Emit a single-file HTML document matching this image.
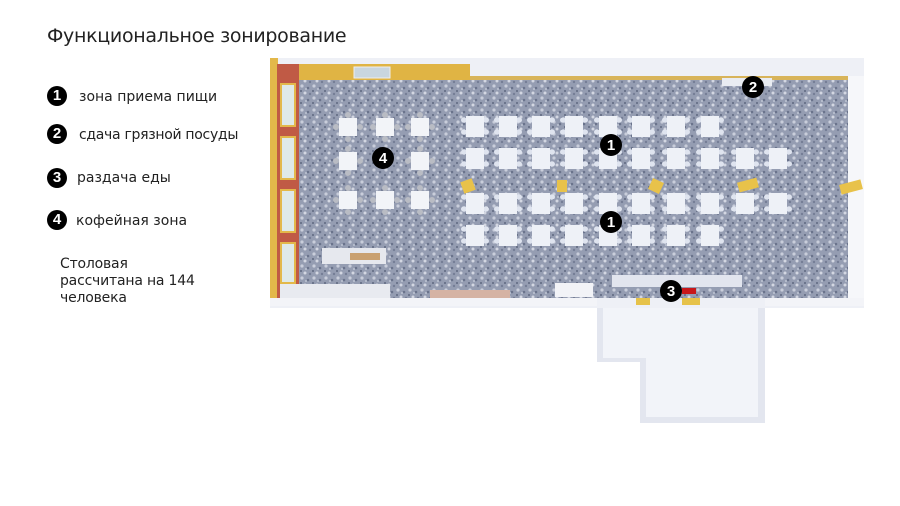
<!DOCTYPE html>
<html><head><meta charset="utf-8"><style>
html,body{margin:0;padding:0;background:#fff;}
body{width:900px;height:506px;position:relative;overflow:hidden;font-family:"DejaVu Sans","Liberation Sans",sans-serif;color:#222;}
.t{position:absolute;white-space:nowrap;}
.m{position:absolute;width:20px;height:20px;border-radius:50%;background:#000;color:#fff;font:bold 15px/20px "Liberation Sans",sans-serif;text-align:center;}
</style></head><body>
<div class="t" style="left:47px;top:25px;font-size:19px;letter-spacing:-0.3px;">Функциональное зонирование</div>
<div class="m" style="left:47px;top:86px;">1</div><div class="t" style="left:79px;top:89px;font-size:14px;">зона приема пищи</div>
<div class="m" style="left:47px;top:124px;">2</div><div class="t" style="left:79px;top:127px;font-size:14px;letter-spacing:-0.3px;">сдача грязной посуды</div>
<div class="m" style="left:47px;top:168px;">3</div><div class="t" style="left:77px;top:170px;font-size:14px;">раздача еды</div>
<div class="m" style="left:47px;top:210px;">4</div><div class="t" style="left:76px;top:213px;font-size:14px;">кофейная зона</div>
<div class="t" style="left:60px;top:256px;font-size:14px;line-height:17px;letter-spacing:-0.2px;">Столовая<br>рассчитана на 144<br>человека</div>

<svg style="position:absolute;left:0;top:0" width="900" height="506">
<defs>
<pattern id="fl" width="12" height="12" patternUnits="userSpaceOnUse">
<rect width="12" height="12" fill="#959db2"/>
<circle cx="2" cy="2" r="1.6" fill="#c9cedb"/><circle cx="8" cy="4" r="1.3" fill="#6a738c"/>
<circle cx="5" cy="9" r="1.5" fill="#d3d7e2"/><circle cx="10" cy="10" r="1.2" fill="#757e96"/>
<circle cx="1" cy="7" r="1" fill="#5f6880"/><circle cx="6" cy="5" r="1" fill="#bfc5d3"/>
</pattern>
<g id="tb">
<path d="M-14,-7 a3,3 0 0 1 5,-2 v4 a3,3 0 0 1 -5,-2z M-14,5 a3,3 0 0 1 5,-2 v4 a3,3 0 0 1 -5,-2z M14,-7 a3,3 0 0 0 -5,-2 v4 a3,3 0 0 0 5,-2z M14,5 a3,3 0 0 0 -5,-2 v4 a3,3 0 0 0 5,-2z" fill="#dfe4ef"/>
<rect x="-9" y="-11" width="18" height="21" fill="#eef1f7"/>
</g>
<g id="ct">
<circle cx="-12" cy="0" r="3" fill="#b9bcc4"/><circle cx="12" cy="0" r="3" fill="#b9bcc4"/>
<circle cx="0" cy="-12" r="3" fill="#b9bcc4"/><circle cx="0" cy="12" r="3" fill="#b9bcc4"/>
<rect x="-9" y="-9" width="18" height="18" fill="#f2f4f8"/>
</g>
</defs>
<!-- annex -->
<rect x="597" y="300" width="168" height="62" fill="#e3e6ef"/>
<rect x="640" y="300" width="125" height="123" fill="#e3e6ef"/>
<rect x="603" y="306" width="155" height="52" fill="#f2f4f9"/>
<rect x="646" y="350" width="112" height="67" fill="#f2f4f9"/>
<!-- outer frame -->
<rect x="270" y="58" width="594" height="250" fill="#eef0f6"/>
<rect x="270" y="58" width="8" height="242" fill="#e3b84a"/>
<rect x="277" y="64" width="193" height="16" fill="#e0b444"/>
<rect x="277" y="64" width="22" height="234" fill="#c05a45"/>
<rect x="848" y="76" width="16" height="222" fill="#f6f7fa"/>
<!-- floor -->
<rect x="299" y="80" width="549" height="218" fill="url(#fl)"/>
<rect x="470" y="76" width="378" height="4" fill="#d8b45a"/>
<rect x="354" y="67" width="36" height="11" fill="#c9d6df" stroke="#eee"/>
<!-- windows -->
<g fill="#dfe9e8" stroke="#e3b84a" stroke-width="2">
<rect x="281" y="84" width="14" height="42"/><rect x="281" y="137" width="14" height="42"/>
<rect x="281" y="190" width="14" height="42"/><rect x="281" y="243" width="14" height="40"/>
</g>
<!-- bottom wall -->
<rect x="270" y="298" width="327" height="8" fill="#f3f4f8"/>
<rect x="765" y="298" width="99" height="8" fill="#f3f4f8"/>
<rect x="280" y="284" width="110" height="14" fill="#e8eaf0"/>
<rect x="430" y="290" width="80" height="8" fill="#d5b3a4"/>
<rect x="555" y="283" width="38" height="14" fill="#f2f3f7"/>
<rect x="612" y="275" width="130" height="12" fill="#e2e5ee"/>
<rect x="682" y="288" width="14" height="6" fill="#c8171a"/>
<rect x="636" y="298" width="14" height="7" fill="#e6c24a"/><rect x="682" y="298" width="18" height="7" fill="#e6c24a"/>
<rect x="322" y="248" width="64" height="16" fill="#e6e8ee"/>
<rect x="350" y="253" width="30" height="7" fill="#c9a070"/>
<rect x="722" y="78" width="50" height="8" fill="#e9ecf2"/>
<!-- yellow bins -->
<g fill="#e8c24a">
<rect x="462" y="180" width="12" height="12" transform="rotate(-20 468 186)"/>
<rect x="557" y="180" width="10" height="12"/>
<rect x="650" y="180" width="12" height="12" transform="rotate(25 656 186)"/>
<rect x="738" y="180" width="20" height="10" transform="rotate(-15 748 185)"/>
<rect x="840" y="182" width="22" height="10" transform="rotate(-15 851 187)"/>
</g>
<!-- dining tables -->
<g>
<use href="#tb" x="475" y="127"/><use href="#tb" x="508" y="127"/><use href="#tb" x="541" y="127"/><use href="#tb" x="574" y="127"/><use href="#tb" x="608" y="127"/><use href="#tb" x="641" y="127"/><use href="#tb" x="676" y="127"/><use href="#tb" x="710" y="127"/>
<use href="#tb" x="475" y="159"/><use href="#tb" x="508" y="159"/><use href="#tb" x="541" y="159"/><use href="#tb" x="574" y="159"/><use href="#tb" x="608" y="159"/><use href="#tb" x="641" y="159"/><use href="#tb" x="676" y="159"/><use href="#tb" x="710" y="159"/><use href="#tb" x="745" y="159"/><use href="#tb" x="778" y="159"/>
<use href="#tb" x="475" y="204"/><use href="#tb" x="508" y="204"/><use href="#tb" x="541" y="204"/><use href="#tb" x="574" y="204"/><use href="#tb" x="608" y="204"/><use href="#tb" x="641" y="204"/><use href="#tb" x="676" y="204"/><use href="#tb" x="710" y="204"/><use href="#tb" x="745" y="204"/><use href="#tb" x="778" y="204"/>
<use href="#tb" x="475" y="236"/><use href="#tb" x="508" y="236"/><use href="#tb" x="541" y="236"/><use href="#tb" x="574" y="236"/><use href="#tb" x="608" y="236"/><use href="#tb" x="641" y="236"/><use href="#tb" x="676" y="236"/><use href="#tb" x="710" y="236"/>
</g>
<g>
<use href="#ct" x="348" y="127"/><use href="#ct" x="385" y="127"/><use href="#ct" x="420" y="127"/>
<use href="#ct" x="348" y="161"/><use href="#ct" x="420" y="161"/>
<use href="#ct" x="348" y="200"/><use href="#ct" x="385" y="200"/><use href="#ct" x="420" y="200"/>
</g>
<g font-family="Liberation Sans,sans-serif" font-weight="bold" font-size="15" fill="#fff" text-anchor="middle">
<circle cx="611" cy="145" r="11" fill="#000"/><text x="611" y="150">1</text>
<circle cx="611" cy="222" r="11" fill="#000"/><text x="611" y="227">1</text>
<circle cx="753" cy="87" r="11" fill="#000"/><text x="753" y="92">2</text>
<circle cx="671" cy="291" r="11" fill="#000"/><text x="671" y="296">3</text>
<circle cx="383" cy="158" r="11" fill="#000"/><text x="383" y="163">4</text>
</g>
</svg>
</body></html>
